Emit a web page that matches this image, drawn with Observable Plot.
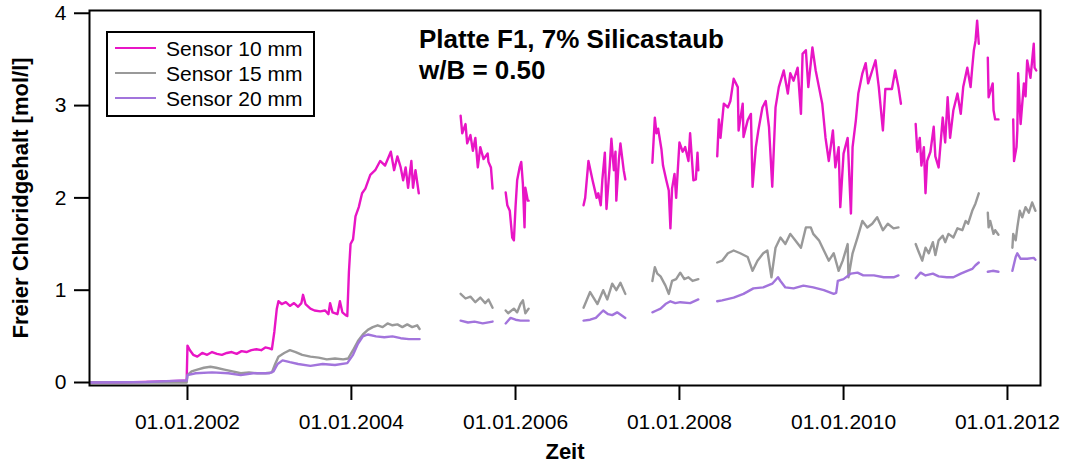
<!DOCTYPE html>
<html>
<head>
<meta charset="utf-8">
<script src="https://cdn.jsdelivr.net/npm/d3@7"></script>
<script src="https://cdn.jsdelivr.net/npm/@observablehq/plot@0.6"></script>
<style>
  html, body { margin: 0; padding: 0; background: #fff; }
  #wrap { position: relative; width: 1070px; height: 468px; font-family: "Liberation Sans", Arial, sans-serif; }
  #wrap svg { position: absolute; left: 0; top: 0; }
  g[aria-label="x-axis label"] text, g[aria-label="y-axis label"] text { font-weight: bold; font-size: 22px; }
  .title { position: absolute; left: 419px; top: 24px; font-weight: bold; font-size: 26px; line-height: 31px; color: #000; white-space: nowrap; }
  .legend { position: absolute; left: 106px; top: 31px; width: 209px; height: 86px; box-sizing: border-box; border: 2px solid #000; background: #fff; }
  .legend .row { position: absolute; left: 0; height: 25px; line-height: 25px; font-size: 21px; white-space: nowrap; }
  .legend .sw { position: absolute; left: 7px; top: 11px; width: 41px; height: 0; border-top: 2px solid; }
  .legend .lab { position: absolute; left: 58px; top: 0; }
</style>
</head>
<body>
<div id="wrap"></div>
<script>
// ---- data (decimal year, free chloride content mol/l) ----
const seriesNames = ["Sensor 10 mm", "Sensor 15 mm", "Sensor 20 mm"];
const seriesColors = ["#e815c5", "#999999", "#a274dc"];
const xTickYears = [2002, 2004, 2006, 2008, 2010, 2012];
const yTicks = [0, 1, 2, 3, 4];
const titleLines = ["Platte F1, 7% Silicastaub", "w/B = 0.50"];

const sensor10 = [
  [[2000.82,0.0],[2001.20,0.0],[2001.60,0.01],[2001.95,0.02],[2001.99,0.02],[2002.00,0.40],[2002.03,0.35],[2002.07,0.30],[2002.12,0.28],[2002.18,0.32],[2002.24,0.30],[2002.30,0.33],[2002.36,0.31],[2002.42,0.30],[2002.48,0.32],[2002.54,0.33],[2002.60,0.31],[2002.66,0.34],[2002.72,0.33],[2002.78,0.35],[2002.84,0.36],[2002.90,0.35],[2002.95,0.38],[2003.00,0.37],[2003.03,0.36],[2003.06,0.55],[2003.09,0.80],[2003.11,0.88],[2003.15,0.85],[2003.20,0.87],[2003.25,0.83],[2003.30,0.86],[2003.35,0.82],[2003.39,0.86],[2003.41,0.95],[2003.44,0.85],[2003.50,0.80],[2003.55,0.78],[2003.62,0.77],[2003.68,0.78],[2003.72,0.74],[2003.74,0.86],[2003.77,0.76],[2003.83,0.74],[2003.86,0.88],[2003.89,0.76],[2003.93,0.73],[2003.95,0.72],[2003.97,1.20],[2003.99,1.50],[2004.02,1.55],[2004.05,1.80],[2004.09,1.90],[2004.13,2.05],[2004.17,2.10],[2004.23,2.25],[2004.29,2.30],[2004.35,2.40],[2004.41,2.35],[2004.48,2.50],[2004.52,2.30],[2004.56,2.45],[2004.60,2.33],[2004.63,2.19],[2004.66,2.33],[2004.69,2.11],[2004.73,2.40],[2004.75,2.11],[2004.78,2.30],[2004.82,2.05]],
  [[2005.33,2.89],[2005.35,2.70],[2005.39,2.80],[2005.41,2.59],[2005.45,2.68],[2005.48,2.51],[2005.51,2.65],[2005.54,2.33],[2005.57,2.55],[2005.61,2.42],[2005.66,2.48],[2005.67,2.39],[2005.70,2.33],[2005.72,2.10]],
  [[2005.88,2.06],[2005.90,1.92],[2005.93,1.86],[2005.96,1.57],[2005.98,1.54],[2006.00,1.90],[2006.02,2.19],[2006.05,2.33],[2006.07,2.39],[2006.09,2.15],[2006.11,1.68],[2006.12,2.11],[2006.15,1.97],[2006.16,1.97]],
  [[2006.83,1.92],[2006.85,2.00],[2006.89,2.40],[2006.94,2.19],[2006.99,2.00],[2007.01,2.05],[2007.04,1.92],[2007.06,2.20],[2007.09,2.49],[2007.11,1.88],[2007.15,2.35],[2007.17,2.64],[2007.20,2.30],[2007.22,2.50],[2007.23,1.97],[2007.26,2.40],[2007.28,2.59],[2007.32,2.30],[2007.34,2.20]],
  [[2007.67,2.38],[2007.70,2.87],[2007.72,2.70],[2007.74,2.75],[2007.78,2.53],[2007.80,2.35],[2007.84,2.19],[2007.87,2.08],[2007.89,1.67],[2007.91,2.10],[2007.94,2.26],[2007.96,2.00],[2008.00,2.60],[2008.04,2.50],[2008.07,2.55],[2008.11,2.40],[2008.13,2.70],[2008.17,2.19],[2008.20,2.20],[2008.22,2.49],[2008.23,2.30]],
  [[2008.46,2.45],[2008.48,2.85],[2008.50,2.65],[2008.54,3.02],[2008.59,2.98],[2008.62,3.05],[2008.66,3.29],[2008.71,3.20],[2008.72,2.73],[2008.77,3.02],[2008.78,2.66],[2008.83,2.84],[2008.87,2.91],[2008.89,2.12],[2008.93,2.55],[2008.96,2.73],[2009.01,2.98],[2009.05,3.05],[2009.09,2.77],[2009.13,2.12],[2009.17,2.98],[2009.21,3.20],[2009.27,3.38],[2009.32,3.13],[2009.35,3.35],[2009.39,3.27],[2009.44,3.41],[2009.48,2.91],[2009.50,3.56],[2009.54,3.60],[2009.57,3.20],[2009.62,3.63],[2009.66,3.38],[2009.70,3.20],[2009.74,3.02],[2009.78,2.65],[2009.82,2.40],[2009.87,2.73],[2009.90,2.33],[2009.94,2.55],[2009.96,1.90],[2010.00,2.48],[2010.05,2.65],[2010.09,1.83],[2010.11,2.55],[2010.15,2.84],[2010.18,3.13],[2010.23,3.35],[2010.27,3.46],[2010.30,3.24],[2010.35,3.38],[2010.39,3.49],[2010.43,3.20],[2010.48,2.73],[2010.51,3.18],[2010.59,3.18],[2010.63,3.38],[2010.67,3.20],[2010.70,3.02]],
  [[2010.88,2.80],[2010.90,2.50],[2010.93,2.65],[2010.95,2.35],[2010.98,2.55],[2011.00,2.05],[2011.02,2.40],[2011.06,2.50],[2011.10,2.77],[2011.12,2.45],[2011.16,2.33],[2011.21,2.87],[2011.24,2.60],[2011.27,3.09],[2011.30,2.65],[2011.34,2.95],[2011.39,3.13],[2011.43,2.91],[2011.46,3.20],[2011.51,3.41],[2011.55,3.20],[2011.57,3.41],[2011.59,3.60],[2011.61,3.70],[2011.63,3.92],[2011.65,3.67]],
  [[2011.76,3.52],[2011.77,3.09],[2011.79,3.15],[2011.82,3.24],[2011.83,2.95],[2011.85,2.85],[2011.89,2.85]],
  [[2012.07,2.85],[2012.08,2.40],[2012.11,2.55],[2012.12,2.73],[2012.13,3.35],[2012.16,2.80],[2012.20,3.24],[2012.22,3.10],[2012.24,3.49],[2012.28,3.30],[2012.32,3.67],[2012.33,3.41],[2012.35,3.38]]
];

const sensor15 = [
  [[2000.82,0.0],[2001.50,0.0],[2001.99,0.0],[2002.00,0.08],[2002.05,0.12],[2002.12,0.14],[2002.20,0.16],[2002.28,0.17],[2002.35,0.16],[2002.45,0.14],[2002.55,0.12],[2002.65,0.10],[2002.75,0.11],[2002.85,0.10],[2002.95,0.10],[2003.03,0.11],[2003.07,0.20],[2003.11,0.28],[2003.18,0.32],[2003.25,0.35],[2003.32,0.33],[2003.40,0.30],[2003.50,0.28],[2003.60,0.27],[2003.70,0.25],[2003.80,0.26],[2003.90,0.25],[2003.96,0.26],[2004.02,0.35],[2004.08,0.45],[2004.14,0.52],[2004.20,0.57],[2004.26,0.60],[2004.32,0.62],[2004.38,0.60],[2004.44,0.64],[2004.50,0.62],[2004.56,0.63],[2004.62,0.60],[2004.68,0.63],[2004.74,0.60],[2004.80,0.62],[2004.83,0.58]],
  [[2005.33,0.96],[2005.39,0.91],[2005.45,0.93],[2005.51,0.87],[2005.57,0.92],[2005.63,0.86],[2005.67,0.90],[2005.72,0.81]],
  [[2005.88,0.78],[2005.91,0.75],[2005.98,0.80],[2006.02,0.76],[2006.06,0.85],[2006.09,0.89],[2006.12,0.75],[2006.16,0.80]],
  [[2006.83,0.81],[2006.91,0.98],[2007.00,0.85],[2007.07,1.00],[2007.12,0.90],[2007.18,1.07],[2007.23,1.00],[2007.28,1.08],[2007.34,0.96]],
  [[2007.67,1.10],[2007.70,1.25],[2007.73,1.18],[2007.77,1.15],[2007.83,1.05],[2007.87,0.96],[2007.91,1.10],[2007.96,1.12],[2008.01,1.19],[2008.06,1.12],[2008.11,1.14],[2008.16,1.10],[2008.23,1.12]],
  [[2008.46,1.30],[2008.52,1.32],[2008.59,1.40],[2008.66,1.43],[2008.74,1.40],[2008.83,1.36],[2008.89,1.21],[2008.95,1.32],[2009.02,1.40],[2009.07,1.43],[2009.12,1.14],[2009.17,1.46],[2009.23,1.57],[2009.29,1.50],[2009.35,1.61],[2009.41,1.54],[2009.48,1.46],[2009.54,1.68],[2009.60,1.68],[2009.63,1.61],[2009.70,1.54],[2009.76,1.43],[2009.82,1.32],[2009.88,1.40],[2009.94,1.21],[2009.99,1.32],[2010.05,1.50],[2010.06,1.14],[2010.11,1.40],[2010.17,1.57],[2010.23,1.75],[2010.29,1.68],[2010.35,1.72],[2010.41,1.79],[2010.48,1.65],[2010.54,1.72],[2010.61,1.67],[2010.67,1.68]],
  [[2010.88,1.50],[2010.91,1.43],[2010.96,1.32],[2011.00,1.46],[2011.04,1.40],[2011.09,1.52],[2011.12,1.38],[2011.16,1.54],[2011.21,1.59],[2011.24,1.52],[2011.28,1.61],[2011.34,1.57],[2011.39,1.67],[2011.45,1.65],[2011.49,1.75],[2011.52,1.72],[2011.57,1.86],[2011.61,1.94],[2011.65,2.05]],
  [[2011.76,1.84],[2011.77,1.68],[2011.79,1.75],[2011.83,1.61],[2011.85,1.65],[2011.89,1.60]],
  [[2012.06,1.46],[2012.07,1.61],[2012.10,1.54],[2012.12,1.68],[2012.15,1.86],[2012.18,1.79],[2012.22,1.90],[2012.26,1.84],[2012.30,1.95],[2012.34,1.86]]
];

const sensor20 = [
  [[2000.82,0.0],[2001.50,0.005],[2001.90,0.02],[2001.99,0.02],[2002.00,0.08],[2002.10,0.10],[2002.30,0.11],[2002.50,0.10],[2002.65,0.08],[2002.80,0.10],[2003.00,0.10],[2003.05,0.12],[2003.10,0.20],[2003.16,0.24],[2003.25,0.22],[2003.35,0.20],[2003.50,0.18],[2003.65,0.20],[2003.80,0.19],[2003.95,0.21],[2004.02,0.30],[2004.08,0.42],[2004.14,0.50],[2004.20,0.52],[2004.30,0.50],[2004.40,0.49],[2004.50,0.50],[2004.60,0.48],[2004.70,0.47],[2004.83,0.47]],
  [[2005.33,0.67],[2005.42,0.65],[2005.50,0.66],[2005.60,0.64],[2005.72,0.66]],
  [[2005.88,0.64],[2005.94,0.70],[2006.00,0.68],[2006.06,0.67],[2006.16,0.67]],
  [[2006.83,0.67],[2006.91,0.68],[2006.98,0.70],[2007.07,0.78],[2007.13,0.74],[2007.18,0.73],[2007.24,0.76],[2007.34,0.70]],
  [[2007.67,0.76],[2007.72,0.78],[2007.77,0.80],[2007.83,0.85],[2007.89,0.88],[2007.95,0.86],[2008.01,0.87],[2008.13,0.86],[2008.23,0.90]],
  [[2008.46,0.88],[2008.52,0.89],[2008.66,0.92],[2008.78,0.96],[2008.90,1.02],[2009.02,1.03],[2009.13,1.07],[2009.20,1.14],[2009.23,1.10],[2009.29,1.03],[2009.39,1.02],[2009.51,1.05],[2009.63,1.03],[2009.76,1.00],[2009.88,0.96],[2009.91,0.97],[2009.93,1.10],[2010.00,1.12],[2010.09,1.18],[2010.17,1.19],[2010.24,1.16],[2010.37,1.16],[2010.49,1.14],[2010.61,1.14],[2010.67,1.16]],
  [[2010.88,1.13],[2010.94,1.19],[2011.00,1.16],[2011.09,1.18],[2011.16,1.15],[2011.26,1.14],[2011.34,1.14],[2011.43,1.18],[2011.51,1.21],[2011.57,1.23],[2011.61,1.27],[2011.65,1.30]],
  [[2011.76,1.20],[2011.82,1.21],[2011.89,1.20]],
  [[2012.06,1.21],[2012.10,1.36],[2012.12,1.40],[2012.16,1.34],[2012.24,1.34],[2012.32,1.35],[2012.34,1.33]]
];

// ---- build table ----
function yearToDate(y) {
  const yr = Math.floor(y);
  const a = Date.UTC(yr, 0, 1), b = Date.UTC(yr + 1, 0, 1);
  return new Date(a + (y - yr) * (b - a));
}
const allSeries = [sensor10, sensor15, sensor20];
const rows = [];
allSeries.forEach((segs, si) => {
  segs.forEach((seg, gi) => {
    seg.forEach(([t, v]) => rows.push({date: yearToDate(t), value: v, series: seriesNames[si], key: si + "-" + gi}));
  });
});

const fmt = d3.utcFormat("%d.%m.%Y");
const xTicks = xTickYears.map(y => new Date(Date.UTC(y, 0, 1)));

const chart = Plot.plot({
  width: 1070,
  height: 468,
  marginLeft: 89,
  marginRight: 30,
  marginTop: 10,
  marginBottom: 83,
  style: {fontFamily: "Liberation Sans, Arial, sans-serif", color: "#000", background: "#fff"},
  x: {type: "utc", domain: [yearToDate(2000.805), yearToDate(2012.402)]},
  y: {domain: [-0.0325, 4.03]},
  color: {domain: seriesNames, range: seriesColors},
  marks: [
    Plot.line(rows, {x: "date", y: "value", z: "key", stroke: "series", strokeWidth: 2.4, strokeLinejoin: "round", curve: "linear"}),
    Plot.frame({stroke: "#000", strokeWidth: 2}),
    Plot.axisX({ticks: xTicks, tickFormat: fmt, tickSize: 15, tickPadding: 14, fontSize: 21, strokeWidth: 2,
      label: "Zeit", labelAnchor: "center", labelArrow: "none", labelOffset: 73}),
    Plot.axisY({ticks: yTicks, tickFormat: d => String(d), tickSize: 15, tickPadding: 8, fontSize: 21, strokeWidth: 2,
      label: "Freier Chloridgehalt [mol/l]", labelAnchor: "center", labelArrow: "none", labelOffset: 77})
  ]
});

const wrap = document.getElementById("wrap");
wrap.appendChild(chart);

// title
const title = document.createElement("div");
title.className = "title";
title.innerHTML = titleLines.map(s => `<div>${s}</div>`).join("");
wrap.appendChild(title);

// legend
const legend = document.createElement("div");
legend.className = "legend";
seriesNames.forEach((name, i) => {
  const row = document.createElement("div");
  row.className = "row";
  row.style.top = (3 + i * 25) + "px";
  row.style.width = "100%";
  row.innerHTML = `<span class="sw" style="border-color:${seriesColors[i]}"></span><span class="lab">${name}</span>`;
  legend.appendChild(row);
});
wrap.appendChild(legend);
</script>
</body>
</html>
